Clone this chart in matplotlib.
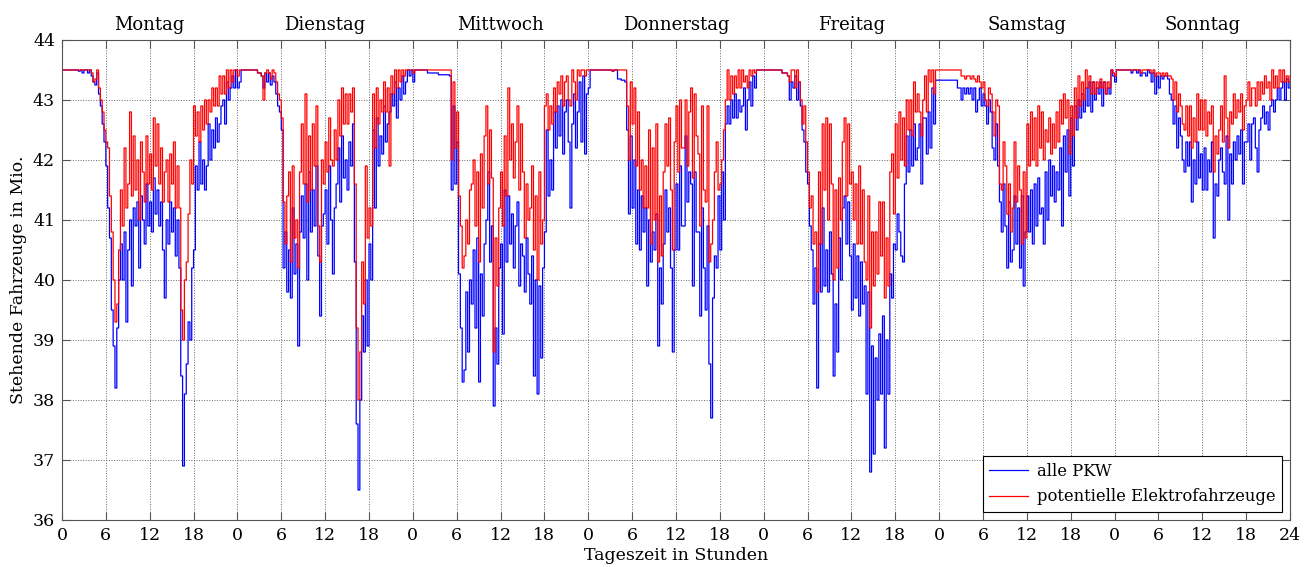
import numpy as np
import matplotlib
matplotlib.use("Agg")
import matplotlib.pyplot as plt

# Stehende Fahrzeuge (Mio.), 15-Minuten-Werte je Tag (96 Werte pro Tag)
# blau = alle PKW, rot = potentielle Elektrofahrzeuge
mon_all = [43.5, 43.5, 43.5, 43.5, 43.5, 43.5, 43.5, 43.5, 43.5, 43.48, 43.5, 43.45,
           43.5, 43.5, 43.45, 43.5, 43.4, 43.3, 43.25, 43.45, 43.1, 42.9, 42.6, 42.3,
           41.9, 41.2, 40.7, 39.5, 38.9, 38.2, 39.2, 40.0, 40.6, 40.0, 40.8, 39.3,
           40.5, 41.0, 39.9, 41.2, 40.9, 41.3, 40.2, 41.4, 41.0, 40.6, 41.6, 40.9,
           41.3, 40.8, 41.7, 41.1, 41.5, 40.9, 41.3, 40.5, 39.7, 41.0, 40.6, 41.3,
           40.8, 41.2, 40.4, 41.0, 40.2, 38.4, 36.9, 38.1, 38.6, 39.3, 39.0, 40.2,
           40.5, 41.9, 41.5, 42.3, 41.6, 42.0, 41.5, 41.9, 42.6, 42.0, 42.5, 42.2,
           42.7, 42.3, 42.6, 42.9, 43.0, 42.6, 43.3, 43.0, 43.2, 43.4, 43.2, 43.5]
mon_ev = [43.5, 43.5, 43.5, 43.5, 43.5, 43.5, 43.5, 43.5, 43.5, 43.5, 43.5, 43.5,
          43.5, 43.5, 43.5, 43.5, 43.45, 43.3, 43.35, 43.5, 43.2, 43.0, 42.8, 42.5,
          42.3, 42.2, 41.4, 40.8, 40.0, 39.3, 39.6, 40.5, 41.5, 40.9, 42.2, 41.2,
          41.6, 42.8, 41.4, 42.4, 41.5, 42.0, 41.0, 42.3, 41.8, 41.3, 42.4, 41.6,
          42.1, 41.5, 42.7, 41.9, 42.6, 41.6, 42.2, 41.3, 41.8, 42.0, 41.3, 42.1,
          41.6, 42.3, 41.2, 41.9, 41.2, 39.5, 39.0, 40.0, 40.3, 41.1, 42.0, 41.6,
          42.9, 42.4, 42.8, 42.3, 42.9, 42.5, 43.0, 42.6, 43.0, 42.8, 43.2, 42.9,
          43.2, 42.9, 43.4, 43.1, 43.4, 43.1, 43.5, 43.2, 43.5, 43.3, 43.5, 43.5]

tue_all = [43.2, 43.3, 43.5, 43.5, 43.5, 43.5, 43.5, 43.5, 43.5, 43.5, 43.5, 43.45,
           43.45, 43.4, 43.2, 43.45, 43.3, 43.45, 43.25, 43.4, 43.3, 43.1, 42.9, 42.8,
           42.5, 40.2, 40.8, 39.8, 40.5, 39.7, 41.2, 40.1, 40.6, 38.9, 40.8, 41.4,
           40.7, 41.6, 40.0, 41.8, 40.8, 41.5, 40.9, 41.9, 40.4, 39.4, 40.9, 41.1,
           41.5, 40.6, 41.9, 41.0, 40.1, 41.2, 41.6, 42.2, 41.3, 42.4, 41.7, 42.0,
           41.5, 42.3, 41.9, 42.6, 40.3, 37.6, 36.5, 38.0, 39.4, 38.8, 40.0, 38.9,
           40.6, 40.0, 42.5, 41.2, 42.7, 41.9, 42.4, 42.1, 42.9, 42.3, 42.6, 42.8,
           43.1, 42.9, 43.3, 42.7, 43.2, 43.0, 43.4, 43.1, 43.3, 43.5, 43.4, 43.5]
tue_ev = [43.4, 43.5, 43.5, 43.5, 43.5, 43.5, 43.5, 43.5, 43.5, 43.5, 43.5, 43.45,
          43.45, 43.4, 43.0, 43.45, 43.5, 43.45, 43.35, 43.5, 43.45, 43.3, 43.1, 43.0,
          42.7, 41.3, 40.6, 41.4, 41.8, 40.3, 41.9, 40.7, 41.0, 40.2, 41.8, 42.6,
          41.6, 43.1, 41.3, 42.4, 41.5, 42.6, 41.9, 42.9, 40.9, 40.3, 42.0, 41.6,
          42.3, 41.8, 42.7, 42.0, 41.9, 42.5, 42.0, 43.0, 42.4, 43.2, 42.6, 43.1,
          42.6, 43.1, 42.8, 43.2, 41.6, 39.2, 38.0, 38.8, 40.3, 39.6, 41.9, 40.7,
          41.2, 40.9, 43.1, 42.2, 43.2, 42.6, 43.0, 42.8, 43.3, 42.8, 43.2, 41.9,
          43.4, 43.1, 43.5, 43.2, 43.5, 43.3, 43.5, 43.4, 43.5, 43.5, 43.5, 43.5]

wed_all = [43.3, 43.5, 43.5, 43.5, 43.5, 43.5, 43.5, 43.5, 43.45, 43.45, 43.45, 43.45,
           43.45, 43.45, 43.42, 43.42, 43.42, 43.42, 43.42, 43.42, 43.4, 41.5, 42.9, 41.6,
           42.3, 40.1, 39.2, 38.3, 38.5, 39.8, 38.8, 40.0, 39.6, 40.5, 39.2, 40.7,
           38.3, 40.1, 39.4, 40.6, 41.0, 41.8, 40.3, 40.9, 37.9, 39.2, 38.6, 40.2,
           40.6, 39.1, 41.5, 40.3, 41.4, 40.6, 41.1, 40.2, 40.9, 41.3, 39.9, 40.6,
           40.4, 39.8, 40.7, 40.1, 39.6, 40.4, 38.4, 40.0, 38.1, 39.9, 38.7, 40.2,
           40.8, 42.5, 41.4, 42.0, 41.5, 42.8, 42.2, 42.9, 42.4, 43.0, 42.1, 42.8,
           43.0, 42.3, 41.2, 42.6, 43.1, 42.2, 42.8, 43.3, 42.3, 43.4, 42.1, 43.1]
wed_ev = [43.45, 43.5, 43.5, 43.5, 43.5, 43.5, 43.5, 43.5, 43.5, 43.5, 43.5, 43.5,
          43.5, 43.5, 43.5, 43.5, 43.5, 43.5, 43.5, 43.5, 43.5, 42.0, 43.3, 42.2,
          42.8, 41.4, 40.9, 40.2, 40.4, 41.0, 40.6, 41.5, 41.6, 42.0, 40.9, 41.8,
          40.3, 42.1, 41.2, 42.4, 42.9, 41.6, 42.5, 41.7, 38.8, 40.7, 39.9, 41.2,
          41.8, 40.9, 42.4, 41.4, 43.2, 42.0, 42.6, 41.7, 42.3, 42.9, 41.5, 42.6,
          41.8, 40.7, 41.6, 41.0, 41.2, 41.9, 40.5, 41.4, 40.0, 41.8, 40.6, 41.0,
          42.9, 43.1, 42.5, 42.9, 42.6, 43.2, 42.8, 43.3, 43.1, 43.4, 42.9, 43.3,
          43.4, 43.0, 42.9, 43.5, 43.3, 43.0, 43.5, 43.4, 43.5, 43.5, 43.4, 43.5]

thu_all = [43.2, 43.5, 43.5, 43.5, 43.5, 43.5, 43.5, 43.5, 43.5, 43.5, 43.5, 43.5,
           43.5, 43.48, 43.5, 43.5, 43.35, 43.35, 43.33, 43.33, 43.3, 42.5, 41.1, 42.4,
           41.2, 42.0, 40.6, 41.5, 40.5, 41.4, 40.8, 41.2, 39.9, 41.0, 40.3, 40.8,
           40.5, 41.1, 38.9, 40.2, 39.6, 40.6, 41.5, 40.8, 41.2, 40.2, 38.8, 40.5,
           41.6, 40.5, 41.9, 40.9, 40.9, 42.4, 41.3, 41.8, 41.6, 39.9, 41.8, 40.8,
           40.8, 39.4, 41.2, 40.2, 39.5, 40.9, 38.6, 37.7, 39.7, 40.4, 40.2, 41.4,
           40.5, 41.8, 41.0, 42.6, 42.9, 42.6, 43.0, 42.7, 43.1, 42.7, 43.0, 42.8,
           42.9, 43.2, 42.5, 43.0, 43.3, 42.9, 43.4, 43.2, 43.5, 43.5, 43.5, 43.5]
thu_ev = [43.5, 43.5, 43.5, 43.5, 43.5, 43.5, 43.5, 43.5, 43.5, 43.5, 43.5, 43.5,
          43.5, 43.48, 43.5, 43.5, 43.5, 43.5, 43.5, 43.5, 43.5, 42.9, 42.0, 43.3,
          42.6, 43.2, 41.9, 42.8, 41.5, 42.0, 41.2, 41.9, 41.2, 42.5, 40.6, 42.2,
          41.0, 42.6, 40.3, 41.4, 40.4, 41.8, 42.6, 41.9, 42.7, 41.5, 40.5, 42.3,
          42.9, 41.8, 43.0, 42.2, 42.2, 43.0, 41.9, 42.8, 43.2, 41.7, 43.1, 42.4,
          42.1, 40.9, 42.9, 41.5, 41.3, 42.9, 40.3, 40.6, 41.0, 41.8, 42.3, 41.5,
          41.6, 42.0, 42.5, 43.0, 43.5, 43.0, 43.4, 43.1, 43.4, 43.2, 43.5, 43.2,
          43.5, 43.3, 43.4, 43.2, 43.5, 43.4, 43.5, 43.45, 43.5, 43.5, 43.5, 43.5]

fri_all = [43.5, 43.5, 43.5, 43.5, 43.5, 43.5, 43.5, 43.5, 43.5, 43.5, 43.45, 43.45,
           43.45, 43.4, 43.0, 43.3, 43.2, 43.4, 43.0, 43.3, 42.9, 42.5, 42.3, 41.8,
           41.6, 40.9, 40.5, 39.6, 40.2, 38.2, 40.6, 39.8, 41.2, 39.9, 40.5, 39.8,
           40.8, 40.1, 38.4, 39.6, 38.8, 40.7, 40.0, 41.2, 41.4, 40.6, 41.3, 40.4,
           39.5, 40.6, 39.7, 40.4, 39.4, 40.3, 39.6, 39.9, 38.1, 39.8, 36.8, 38.9,
           37.1, 38.7, 38.0, 39.1, 38.1, 39.4, 37.2, 39.0, 38.1, 40.1, 39.7, 40.6,
           40.5, 41.1, 40.8, 40.4, 40.3, 41.6, 42.4, 41.8, 42.5, 41.9, 42.6, 42.0,
           42.2, 42.6, 41.6, 42.7, 42.7, 42.1, 42.8, 42.2, 43.2, 42.6, 43.33, 43.33]
fri_ev = [43.5, 43.5, 43.5, 43.5, 43.5, 43.5, 43.5, 43.5, 43.5, 43.5, 43.45, 43.45,
          43.45, 43.4, 43.3, 43.5, 43.5, 43.2, 43.5, 43.3, 43.0, 42.6, 42.9, 42.3,
          41.8, 41.2, 41.4, 40.6, 40.8, 39.8, 41.8, 40.6, 42.6, 41.5, 42.7, 41.0,
          42.6, 41.6, 40.0, 41.5, 40.2, 41.7, 41.0, 42.3, 42.7, 41.4, 42.6, 41.6,
          41.8, 41.0, 41.6, 40.6, 41.9, 40.6, 41.5, 40.3, 40.0, 41.4, 39.2, 40.8,
          39.9, 40.8, 40.1, 41.3, 40.4, 41.3, 39.7, 40.7, 39.9, 41.8, 42.1, 41.1,
          42.6, 41.7, 42.8, 42.0, 42.7, 41.9, 43.0, 42.5, 43.0, 42.4, 43.3, 42.8,
          43.1, 42.8, 42.4, 43.0, 43.4, 42.8, 43.5, 43.3, 43.5, 43.1, 43.5, 43.5]

sat_all = [43.33, 43.33, 43.33, 43.33, 43.33, 43.33, 43.33, 43.33, 43.33, 43.33, 43.2, 43.2,
           43.0, 43.2, 43.1, 43.2, 43.1, 43.2, 43.0, 43.2, 42.8, 43.0, 43.2, 42.9,
           43.1, 42.9, 42.6, 43.0, 42.8, 42.2, 42.0, 42.6, 41.9, 41.3, 40.8, 41.6,
           40.9, 40.2, 41.3, 40.3, 40.5, 41.4, 40.6, 41.2, 40.2, 41.4, 39.9, 40.8,
           41.4, 40.8, 41.5, 40.6, 41.6, 40.9, 41.7, 41.1, 41.2, 40.6, 41.8, 41.0,
           42.0, 41.4, 41.9, 41.3, 41.8, 41.5, 42.2, 40.9, 42.4, 41.8, 42.5, 41.4,
           42.7, 41.9, 42.9, 42.5, 43.0, 42.7, 43.1, 42.8, 43.2, 42.9, 43.3, 42.8,
           43.3, 43.0, 43.2, 43.1, 43.3, 42.9, 43.3, 43.1, 43.2, 43.1, 43.5, 43.4]
sat_ev = [43.5, 43.5, 43.5, 43.5, 43.5, 43.5, 43.5, 43.5, 43.5, 43.5, 43.5, 43.5,
          43.4, 43.4, 43.35, 43.4, 43.4, 43.35, 43.4, 43.35, 43.3, 43.4, 43.3, 43.2,
          43.3, 43.0, 42.9, 43.2, 43.1, 42.8, 42.4, 43.0, 42.9, 41.6, 41.5, 42.3,
          41.9, 41.1, 41.6, 40.8, 41.2, 42.3, 41.3, 41.9, 41.5, 40.6, 41.8, 40.7,
          42.6, 41.9, 42.8, 42.0, 42.7, 41.9, 42.9, 42.2, 42.8, 42.0, 42.5, 42.3,
          42.7, 42.1, 42.6, 42.2, 42.8, 42.3, 43.0, 42.6, 43.1, 42.7, 43.0, 42.1,
          42.9, 42.4, 43.2, 42.7, 43.4, 42.9, 43.3, 43.0, 43.5, 43.2, 43.4, 43.1,
          43.3, 43.1, 43.3, 43.2, 43.35, 43.2, 43.3, 43.1, 43.3, 43.2, 43.5, 43.45]

sun_all = [43.3, 43.5, 43.5, 43.5, 43.5, 43.5, 43.5, 43.5, 43.5, 43.45, 43.5, 43.5,
           43.45, 43.5, 43.4, 43.45, 43.45, 43.4, 43.5, 43.45, 43.3, 43.45, 43.1, 43.4,
           43.2, 43.4, 43.35, 43.4, 43.4, 43.35, 43.1, 43.0, 42.6, 42.9, 42.2, 42.7,
           42.4, 42.0, 41.8, 42.3, 41.9, 42.3, 41.3, 42.0, 41.6, 42.3, 41.7, 42.1,
           41.5, 42.2, 41.5, 42.0, 41.8, 42.3, 40.7, 41.6, 41.4, 42.0, 42.2, 41.8,
           41.6, 42.4, 41.0, 42.1, 41.6, 42.3, 42.0, 42.4, 42.1, 42.5, 41.6, 42.3,
           42.3, 42.6, 42.0, 42.6, 42.7, 42.2, 41.8, 42.5, 42.7, 42.9, 42.6, 42.8,
           42.5, 42.9, 43.0, 42.8, 43.0, 43.2, 43.0, 43.2, 43.3, 43.0, 43.35, 43.2]
sun_ev = [43.4, 43.5, 43.5, 43.5, 43.5, 43.5, 43.5, 43.5, 43.5, 43.5, 43.5, 43.5,
          43.5, 43.5, 43.45, 43.5, 43.5, 43.5, 43.5, 43.5, 43.45, 43.5, 43.4, 43.45,
          43.45, 43.4, 43.45, 43.4, 43.45, 43.4, 43.4, 43.35, 43.0, 43.3, 42.8, 43.1,
          42.9, 42.6, 42.5, 42.9, 42.4, 42.9, 42.2, 42.7, 42.3, 43.1, 42.5, 43.0,
          42.5, 43.0, 42.4, 42.8, 42.6, 42.9, 41.8, 42.4, 42.1, 42.5, 42.9, 42.3,
          43.4, 42.7, 42.2, 42.8, 42.6, 43.1, 42.7, 43.0, 42.8, 43.1, 42.5, 42.9,
          43.0, 43.3, 42.9, 43.2, 43.2, 42.9, 43.3, 43.0, 43.3, 43.1, 43.4, 43.2,
          43.3, 43.0, 43.5, 43.2, 43.4, 43.2, 43.5, 43.3, 43.5, 43.3, 43.4, 43.3]

days = ["Montag", "Dienstag", "Mittwoch", "Donnerstag", "Freitag", "Samstag", "Sonntag"]
all_pkw = mon_all + tue_all + wed_all + thu_all + fri_all + sat_all + sun_all + [43.3]
ev_pkw = mon_ev + tue_ev + wed_ev + thu_ev + fri_ev + sat_ev + sun_ev + [43.4]

# Zeitachse in Stunden (15-Minuten-Raster)
t = np.arange(len(all_pkw)) * 0.25

plt.rcParams['font.family'] = ['DejaVu Serif']
plt.rcParams['font.size'] = 12.5

fig = plt.figure(figsize=(13.13, 5.67), dpi=100)
ax = fig.add_axes([0.0472, 0.0829, 0.9353, 0.8466])

ax.step(t, all_pkw, where='post', color='#0000ff', lw=0.9, label='alle PKW')
ax.step(t, ev_pkw, where='post', color='#ff0000', lw=0.9, label='potentielle Elektrofahrzeuge')

ax.set_xlim(0, 168)
ax.set_ylim(36, 44)
xt = np.arange(0, 169, 6)
ax.set_xticks(xt)
ax.set_xticklabels([str(int(h % 24)) if h < 168 else '24' for h in xt])
ax.set_yticks(np.arange(36, 45, 1))

ax.grid(True, linestyle=':', color='#666666', linewidth=0.7)
ax.tick_params(direction='in', top=True, right=True, length=6, color='#555555', pad=5)
for s in ax.spines.values():
    s.set_color('#555555')

ax.set_xlabel('Tageszeit in Stunden', labelpad=2)
ax.set_ylabel('Stehende Fahrzeuge in Mio.', labelpad=4)

for i, d in enumerate(days):
    ax.text(12 + 24 * i, 1.012, d, transform=ax.get_xaxis_transform(),
            ha='center', va='bottom', fontsize=13)

leg = ax.legend(loc='lower right', fancybox=False, framealpha=1, edgecolor='black',
                borderaxespad=0.5, handlelength=2.4, handletextpad=0.5, fontsize=11.8)
leg.get_frame().set_linewidth(0.8)

fig.savefig('out.png', dpi=100)
